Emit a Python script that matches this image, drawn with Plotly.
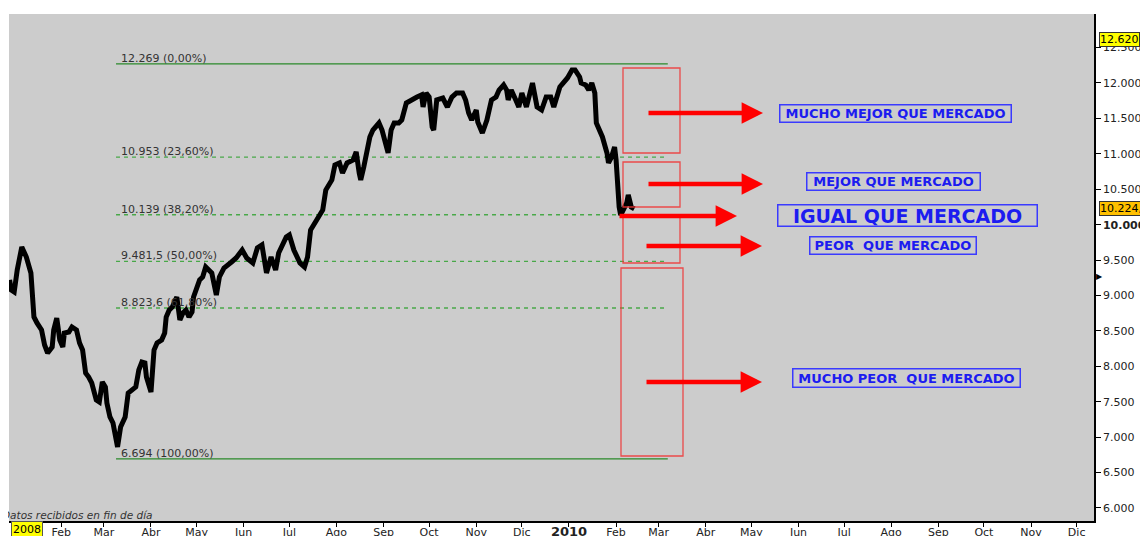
import plotly.graph_objects as go

# ---------------- data ----------------
dates = [
    "2008-12-29", "2008-12-30", "2009-01-01", "2009-01-03", "2009-01-06", "2009-01-09",
    "2009-01-12", "2009-01-13", "2009-01-14", "2009-01-16", "2009-01-19", "2009-01-21",
    "2009-01-23", "2009-01-26", "2009-01-27", "2009-01-29", "2009-01-31", "2009-02-02",
    "2009-02-03", "2009-02-06", "2009-02-08", "2009-02-11", "2009-02-13", "2009-02-15",
    "2009-02-17", "2009-02-19", "2009-02-21", "2009-02-24", "2009-02-26", "2009-02-28",
    "2009-03-02", "2009-03-03", "2009-03-05", "2009-03-07", "2009-03-09", "2009-03-10",
    "2009-03-12", "2009-03-15", "2009-03-17", "2009-03-19", "2009-03-22", "2009-03-24",
    "2009-03-26", "2009-03-28", "2009-03-29", "2009-04-01", "2009-04-02", "2009-04-03",
    "2009-04-05", "2009-04-08", "2009-04-10", "2009-04-11", "2009-04-13", "2009-04-15",
    "2009-04-18", "2009-04-20", "2009-04-22", "2009-04-24", "2009-04-26", "2009-04-28",
    "2009-04-29", "2009-05-03", "2009-05-05", "2009-05-07", "2009-05-11", "2009-05-14",
    "2009-05-16", "2009-05-19", "2009-05-24", "2009-05-27", "2009-05-31", "2009-06-03",
    "2009-06-07", "2009-06-10", "2009-06-13", "2009-06-15", "2009-06-16", "2009-06-19",
    "2009-06-22", "2009-06-24", "2009-06-29", "2009-07-01", "2009-07-04", "2009-07-08",
    "2009-07-11", "2009-07-13", "2009-07-15", "2009-07-19", "2009-07-23", "2009-07-25",
    "2009-07-29", "2009-07-31", "2009-08-03", "2009-08-05", "2009-08-08", "2009-08-12",
    "2009-08-14", "2009-08-16", "2009-08-17", "2009-08-19", "2009-08-23", "2009-08-25",
    "2009-08-29", "2009-08-31", "2009-09-04", "2009-09-06", "2009-09-08", "2009-09-11",
    "2009-09-13", "2009-09-16", "2009-09-19", "2009-09-23", "2009-09-26", "2009-09-27",
    "2009-09-29", "2009-10-01", "2009-10-03", "2009-10-04", "2009-10-06", "2009-10-10",
    "2009-10-13", "2009-10-16", "2009-10-19", "2009-10-23", "2009-10-25", "2009-10-27",
    "2009-10-29", "2009-11-01", "2009-11-02", "2009-11-05", "2009-11-08", "2009-11-11",
    "2009-11-14", "2009-11-16", "2009-11-19", "2009-11-21", "2009-11-22", "2009-11-24",
    "2009-11-27", "2009-11-29", "2009-12-01", "2009-12-04", "2009-12-08", "2009-12-09",
    "2009-12-11", "2009-12-14", "2009-12-17", "2009-12-20", "2009-12-22", "2009-12-26",
    "2009-12-29", "2009-12-31", "2010-01-03", "2010-01-05", "2010-01-08", "2010-01-09",
    "2010-01-12", "2010-01-14", "2010-01-16", "2010-01-18", "2010-01-19", "2010-01-21",
    "2010-01-23", "2010-01-26", "2010-01-27", "2010-01-29", "2010-01-31", "2010-02-01",
    "2010-02-02", "2010-02-03", "2010-02-04", "2010-02-08", "2010-02-09", "2010-02-11",
    "2010-02-13",
]
closes = [
    9219, 9078, 9049, 9360, 9685, 9543,
    9318, 9078, 8696, 8612, 8513, 8301,
    8188, 8273, 8513, 8682, 8372, 8273,
    8470, 8485, 8555, 8513, 8329, 8230,
    7906, 7849, 7765, 7525, 7496, 7779,
    7708, 7482, 7285, 7200, 7002, 6861,
    7143, 7285, 7623, 7666, 7708, 7948,
    8061, 8047, 7849, 7638, 7948, 8230,
    8329, 8372, 8470, 8696, 8795, 8838,
    8979, 8654, 8753, 8795, 8696, 8767,
    8979, 9219, 9261, 9402, 9318, 9007,
    9261, 9388, 9473, 9529, 9642, 9529,
    9459, 9671, 9713, 9501, 9318, 9543,
    9360, 9600, 9826, 9854, 9642, 9459,
    9402, 9543, 9925, 10066, 10207, 10489,
    10631, 10842, 10871, 10729, 10871, 10913,
    11026, 10729, 10631, 10814, 11238, 11336,
    11435, 11336, 11012, 11336, 11435, 11435,
    11478, 11718, 11760, 11802, 11831, 11661,
    11859, 11802, 11379, 11336, 11760, 11788,
    11661, 11802, 11859, 11859, 11760, 11576,
    11478, 11619, 11449, 11294, 11478, 11760,
    11802, 11901, 11972, 11901, 11760, 11901,
    11760, 11661, 11859, 11661, 12000, 11859,
    11661, 11619, 11802, 11802, 11661, 11944,
    12014, 12071, 12184, 12184, 12085, 12000,
    11972, 11901, 12000, 11859, 11435, 11336,
    11238, 11012, 10871, 10955, 11096, 10913,
    10532, 10249, 10136, 10306, 10419, 10249,
    10224,
]

fib_levels = [12269, 10953, 10139, 9481.5, 8823.6, 6694]
fib_labels = ["12.269 (0,00%)", "10.953 (23,60%)", "10.139 (38,20%)",
              "9.481,5 (50,00%)", "8.823,6 (61,80%)", "6.694 (100,00%)"]
fib_solid = [True, False, False, False, False, True]
fib_start = "2009-03-09"
fib_label_x = "2009-03-11"
fib_end_solid = "2010-03-07"
fib_end_dash = "2010-03-05"

month_ticks = ["2009-02-01", "2009-03-01", "2009-04-01", "2009-05-01", "2009-06-01",
               "2009-07-01", "2009-08-01", "2009-09-01", "2009-10-01", "2009-11-01",
               "2009-12-01", "2010-01-01", "2010-02-01", "2010-03-01", "2010-04-01",
               "2010-05-01", "2010-06-01", "2010-07-01", "2010-08-01", "2010-09-01",
               "2010-10-01", "2010-11-01", "2010-12-01"]
month_labels = ["Feb", "Mar", "Abr", "May", "Jun", "Jul", "Ago", "Sep", "Oct", "Nov", "Dic",
                "<span style='font-size:13px'><b>2010</b></span>",
                "Feb", "Mar", "Abr", "May", "Jun", "Jul", "Ago", "Sep", "Oct", "Nov", "Dic"]

y_ticks = [6000, 6500, 7000, 7500, 8000, 8500, 9000, 9500, 10000, 10500, 11000, 11500, 12000, 12500]
y_labels = ["6.000", "6.500", "7.000", "7.500", "8.000", "8.500", "9.000", "9.500",
            "<b>10.000</b>", "10.500", "11.000", "11.500", "12.000", "12.500"]

marker_high = 12620
marker_high_label = "12.620"
last_value_label = "10.224,"
last_value = 10224
pointer_value = 9275

zone_texts = ["MUCHO MEJOR QUE MERCADO", "MEJOR QUE MERCADO", "IGUAL QUE MERCADO",
              "PEOR\u00a0 QUE MERCADO", "MUCHO PEOR\u00a0 QUE MERCADO"]

# ---------------- layout geometry ----------------
# the page body has an 8px margin, so the figure is 8px smaller and starts at (8, 8)
PAGE_OFF = 8
W, H = 1148 - PAGE_OFF, 536 - PAGE_OFF
PLOT_L, PLOT_R, PLOT_T, PLOT_B = 9, 1094, 14, 521   # plot area in window pixels
ML, MT = PLOT_L - PAGE_OFF, PLOT_T - PAGE_OFF
MR, MB = 1148 - PLOT_R, 536 - PLOT_B


def px(x):
    return (x - PLOT_L) / (PLOT_R - PLOT_L)


def py(y):
    return (PLOT_B - y) / (PLOT_B - PLOT_T)


FONT = "DejaVu Sans"

fig = go.Figure()
fig.add_trace(go.Scatter(x=dates, y=closes, mode="lines",
                         line=dict(color="black", width=5), hoverinfo="skip",
                         showlegend=False))

shapes = []
annotations = []

for lvl, lab, solid in zip(fib_levels, fib_labels, fib_solid):
    shapes.append(dict(type="line", xref="x", yref="y", x0=fib_start,
                       x1=fib_end_solid if solid else fib_end_dash, y0=lvl, y1=lvl,
                       line=dict(color="#2a8a2a" if solid else "#48a848",
                                 width=1.2 if solid else 1.4,
                                 dash="solid" if solid else "4px,4px"),
                       layer="below"))
    annotations.append(dict(x=fib_label_x, y=lvl, xref="x", yref="y", text=lab,
                            xanchor="left", yanchor="bottom", yshift=-3, showarrow=False,
                            font=dict(family=FONT, size=11, color="#333333")))

# red zone boxes
boxes = [(623, 68, 680, 153), (623, 162, 680, 207), (623, 216, 680, 263), (621, 268, 683, 456)]
for x0, y0, x1, y1 in boxes:
    shapes.append(dict(type="rect", xref="paper", yref="paper",
                       x0=px(x0), x1=px(x1), y0=py(y1), y1=py(y0),
                       line=dict(color="rgba(240,50,50,0.85)", width=1.3),
                       fillcolor="rgba(0,0,0,0)"))

# red arrows
arrows = [(647, 763, 113), (647, 763, 184), (618, 737, 216), (645, 762, 246), (645, 762, 382)]
for tail, tip, yy in arrows:
    annotations.append(dict(x=px(tip), y=py(yy), xref="paper", yref="paper", text="",
                            showarrow=True, ax=-(tip - tail), ay=0, arrowhead=2,
                            arrowsize=0.95, arrowwidth=4.5, arrowcolor="#ff0000",
                            standoff=0))

# blue labels
label_geo = [(895.5, 113.5, 233, 19, 13), (893.5, 181.5, 175, 19, 13),
             (907.5, 215.5, 261, 23, 19), (893, 245.5, 168, 19, 13),
             (906.5, 378, 229, 20, 13)]
for txt, (cx, cy, w, h, fs) in zip(zone_texts, label_geo):
    annotations.append(dict(x=px(cx), y=py(cy), xref="paper", yref="paper",
                            text="<b>" + txt + "</b>", showarrow=False,
                            xanchor="center", yanchor="middle",
                            width=w - 3, height=h - 3, borderpad=0,
                            bordercolor="#3a3aff", borderwidth=1.5,
                            font=dict(family=FONT, size=fs, color="#1c1cf0")))

# value tags on the right axis
annotations.append(dict(x=px(1099), y=marker_high, xref="paper", yref="y",
                        text=marker_high_label, showarrow=False, xanchor="left",
                        yanchor="middle", bgcolor="#ffff00", bordercolor="#333333",
                        borderwidth=1, borderpad=0,
                        font=dict(family=FONT, size=11, color="black")))
annotations.append(dict(x=px(1099), y=last_value, xref="paper", yref="y",
                        text=last_value_label, showarrow=False, xanchor="left",
                        yanchor="middle", bgcolor="#ffc000", bordercolor="#333333",
                        borderwidth=1, borderpad=0,
                        font=dict(family=FONT, size=11, color="black")))
annotations.append(dict(x=px(1094), y=pointer_value, xref="paper", yref="y",
                        text="\u25b6", showarrow=False, xanchor="left", yanchor="middle",
                        font=dict(family=FONT, size=8, color="black")))

# year tag bottom-left
annotations.append(dict(x=px(27), y=py(529), xref="paper", yref="paper", text="2008",
                        showarrow=False, xanchor="center", yanchor="middle",
                        bgcolor="#ffff00", bordercolor="#555555", borderwidth=1,
                        borderpad=1, font=dict(family=FONT, size=11, color="black")))

# footnote
annotations.append(dict(x=px(0), y=py(515), xref="paper", yref="paper",
                        text="<i>Datos recibidos en fin de día</i>", showarrow=False,
                        xanchor="left", yanchor="middle",
                        font=dict(family=FONT, size=10.5, color="#333333")))

fig.update_layout(
    width=W, height=H,
    margin=dict(l=ML, r=MR, t=MT, b=MB, pad=0),
    paper_bgcolor="white", plot_bgcolor="#cccccc",
    showlegend=False,
    shapes=shapes, annotations=annotations,
    xaxis=dict(type="date", range=["2008-12-28 14:00", "2010-12-12 10:00"],
               tickmode="array", tickvals=month_ticks, ticktext=month_labels,
               ticks="outside", ticklen=4, tickcolor="black", tickwidth=1,
               ticklabelstandoff=-4,
               showline=True, linecolor="black", linewidth=1.5,
               showgrid=False, zeroline=False, automargin=False,
               tickfont=dict(family=FONT, size=11, color="#222222")),
    yaxis=dict(side="right", range=[5816, 12974], tickmode="array",
               tickvals=y_ticks, ticktext=y_labels,
               ticks="outside", ticklen=5, tickcolor="black", tickwidth=1,
               showline=True, linecolor="black", linewidth=1.5,
               showgrid=False, zeroline=False, automargin=False,
               tickfont=dict(family=FONT, size=11, color="#222222")),
)

fig.write_html("out.html")
